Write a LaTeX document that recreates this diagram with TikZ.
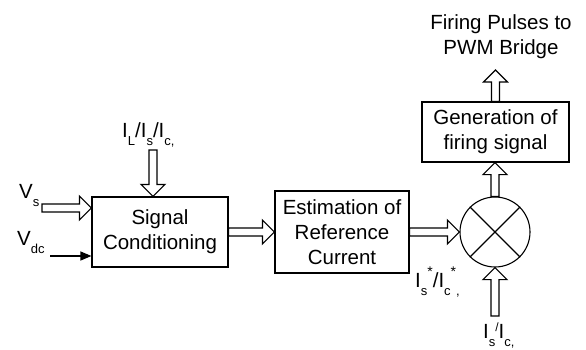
\documentclass[tikz,border=0pt]{standalone}
\usepackage{fontspec}
\setmainfont{Liberation Sans}
\usetikzlibrary{calc,arrows.meta}
% lowered subscript and raised mark, set as in the block labels
\newcommand{\lowsub}[1]{\raisebox{-0.42em}{\fontsize{13}{13}\selectfont #1}}
\newcommand{\hisup}[1]{\raisebox{0.5em}{\fontsize{14}{14}\selectfont #1}}
\begin{document}
\begin{tikzpicture}[x=1pt,y=-1pt,
  every node/.style={font=\fontsize{20.5}{25}\selectfont},
  block/.style={draw, line width=1.1pt, align=center, inner sep=2pt},
  label/.style={anchor=base west, inner sep=0pt},
  % outlined broad arrow between two points
  hollow/.style={line width=1.1pt, line join=miter, to path={
    let \p1=(\tikztostart), \p2=(\tikztotarget),
        \n2={veclen(\x2-\x1,\y2-\y1)-12pt},
        \p3=($(\p1)!\n2!(\p2)$) in
    ($(\p1)!4pt!90:(\p2)$) -- ($(\p3)!4pt!90:(\p2)$) -- ($(\p3)!12pt!90:(\p2)$)
    -- (\p2) -- ($(\p3)!12pt!-90:(\p2)$) -- ($(\p3)!4pt!-90:(\p2)$)
    -- ($(\p1)!4pt!-90:(\p2)$) -- cycle}},
  thinarrow/.style={line width=1.1pt, -{Triangle[length=11pt,width=9pt]}}
]
\useasboundingbox (0,0) rectangle (586,349);

% blocks
\node[block, minimum width=136pt, minimum height=70pt] (sc) at (160,232) {Signal\\Conditioning};
\node[block, minimum width=134pt, minimum height=82pt] (est) at (342,232) {Estimation of\\Reference\\Current};
\node[draw, circle, line width=1.1pt, minimum size=70pt, inner sep=0pt] (mul) at (495,232) {};
\node[block, minimum width=147pt, minimum height=60pt] (gen) at (495.5,132) {Generation of\\firing signal};
\node[align=center, inner sep=0pt] (fire) at (501,37) {Firing Pulses to\\PWM Bridge};

% cross inside the multiplier
\draw[line width=1.1pt] (mul.north east) -- (mul.south west)
                        (mul.north west) -- (mul.south east);

% input and output labels
\node[label] (vs) at (19,198) {V\lowsub{s}};
\node[label] (vdc) at (17,245) {V\lowsub{dc}};
\node[label] (il) at (122,137) {I\lowsub{L}/I\lowsub{s}/I\lowsub{c,}};
\node[label] (isref) at (415,287) {I\lowsub{s}\hisup{*}/I\lowsub{c}\hisup{*}\lowsub{,}};
\node[label] (isact) at (483,338) {I\lowsub{s}\raisebox{0.3em}{\fontsize{12}{12}\selectfont/}I\lowsub{c,}};

% free ends of the connectors
\coordinate (vsIn) at (42,208);
\coordinate (vdcIn) at (50,256);
\coordinate (ilOut) at (153,150);
\coordinate (isOut) at (495,316);
\coordinate (fireIn) at (495.5,70);

% connectors
\draw[hollow] (vsIn) to (sc.west |- vsIn);
\draw[thinarrow] (vdcIn) -- (sc.west |- vdcIn);
\draw[hollow] (ilOut) to (ilOut |- sc.north);
\draw[hollow] (sc.east) to (est.west);
\draw[hollow] (est.east) to (mul.west);
\draw[hollow] (isOut) to (mul.south);
\draw[hollow] (mul.north) to (mul.north |- gen.south);
\draw[hollow] (gen.north) to (fireIn);
\end{tikzpicture}
\end{document}
